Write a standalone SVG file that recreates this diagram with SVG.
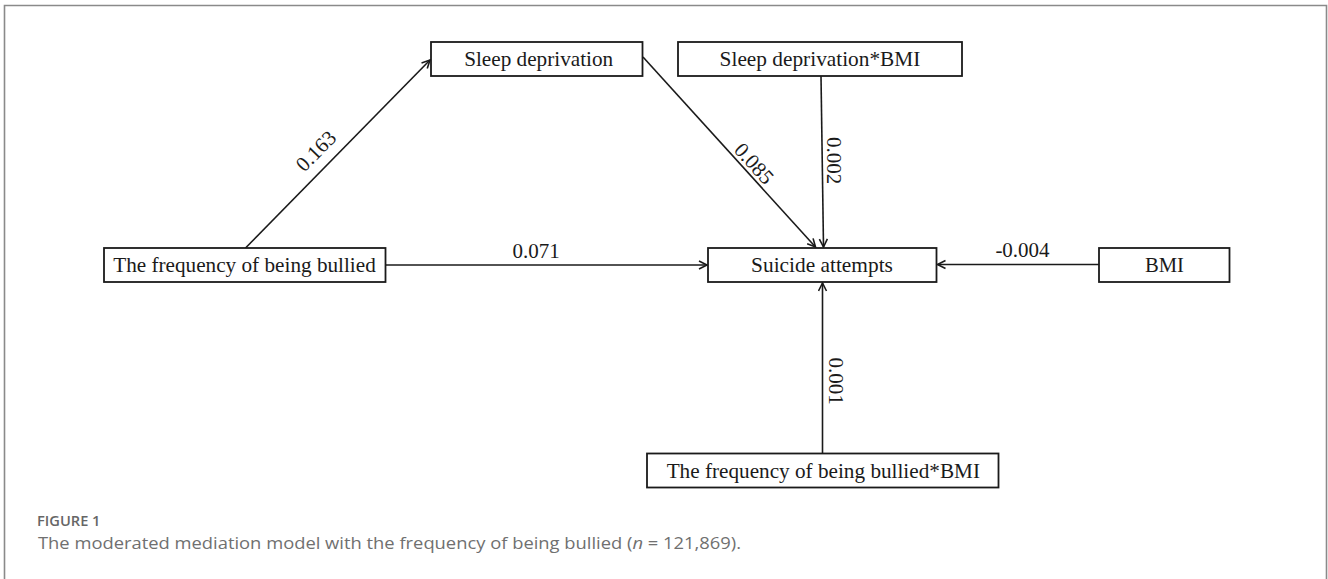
<svg xmlns="http://www.w3.org/2000/svg" width="1328" height="579" viewBox="0 0 1328 579">
<style>
.box{fill:#fff;stroke:#1a1a1a;stroke-width:1.8}
.nt{font-family:"Liberation Serif","Times New Roman",serif;font-size:22px;fill:#1a1a1a;text-anchor:middle}
.lb{font-family:"Liberation Serif","Times New Roman",serif;font-size:21px;fill:#1a1a1a;text-anchor:middle}
.edge{stroke:#1a1a1a;stroke-width:1.6;fill:none;marker-end:url(#arr)}
.cap1{font-family:"Open Sans","Noto Sans",sans-serif;font-size:14px;font-weight:600;fill:#666}
.cap2{font-family:"Open Sans","Noto Sans",sans-serif;font-size:17px;fill:#707070}
</style>
<defs>
<marker id="arr" markerUnits="userSpaceOnUse" markerWidth="12" markerHeight="12" refX="9" refY="5" orient="auto">
<path d="M1,1 L9,5 L1,9" fill="none" stroke="#1a1a1a" stroke-width="1.6"/>
</marker>
</defs>
<rect width="1328" height="579" fill="#fff"/>
<path d="M4.5,579 V5.5 H1326.5 V579" fill="none" stroke="#8a8a8a" stroke-width="1.6"/>
<g id="connectors">
<path class="edge" d="M245.5,248 L430,60"/>
<path class="edge" d="M385.5,265 L707,265"/>
<path class="edge" d="M643,57 L815.5,247"/>
<path class="edge" d="M821,76 L823.5,247"/>
<path class="edge" d="M1099,264.5 L937.5,264.5"/>
<path class="edge" d="M822.5,453.5 L822.5,283"/>
<text class="lb" transform="translate(316,151) rotate(-45.3)" y="7">0.163</text>
<text class="lb" transform="translate(754,163.5) rotate(47.8)" y="7">0.085</text>
<text class="lb" transform="translate(834,160.5) rotate(90)" y="7">0.002</text>
<text class="lb" transform="translate(836,381) rotate(90)" y="7">0.001</text>
<text class="lb" x="536" y="257.5">0.071</text>
<text class="lb" x="1022.5" y="257">-0.004</text>
</g>
<g id="node-freq">
<rect class="box" x="104" y="248" width="281.5" height="34"/>
<text class="nt" x="244.5" y="272" textLength="262.6" lengthAdjust="spacingAndGlyphs">The frequency of being bullied</text>
</g>
<g id="node-sleep">
<rect class="box" x="431" y="42" width="211.5" height="34"/>
<text class="nt" x="538.7" y="66" textLength="149" lengthAdjust="spacingAndGlyphs">Sleep deprivation</text>
</g>
<g id="node-sleepbmi">
<rect class="box" x="678" y="42" width="284" height="34"/>
<text class="nt" x="820" y="66" textLength="200.8" lengthAdjust="spacingAndGlyphs">Sleep deprivation*BMI</text>
</g>
<g id="node-suicide">
<rect class="box" x="708" y="248" width="228.5" height="34"/>
<text class="nt" x="822" y="272" textLength="141.8" lengthAdjust="spacingAndGlyphs">Suicide attempts</text>
</g>
<g id="node-bmi">
<rect class="box" x="1099" y="248" width="130.5" height="34"/>
<text class="nt" x="1164.5" y="272" textLength="39" lengthAdjust="spacingAndGlyphs">BMI</text>
</g>
<g id="node-freqbmi">
<rect class="box" x="647" y="453.5" width="351.5" height="34"/>
<text class="nt" x="823.3" y="477.5" textLength="313.3" lengthAdjust="spacingAndGlyphs">The frequency of being bullied*BMI</text>
</g>
<g id="caption">
<text class="cap1" x="37" y="526" textLength="63.5" lengthAdjust="spacingAndGlyphs">FIGURE 1</text>
<text class="cap2" x="38" y="549" textLength="703" lengthAdjust="spacingAndGlyphs">The moderated mediation model with the frequency of being bullied (<tspan font-style="italic">n</tspan> = 121,869).</text>
</g>
</svg>
